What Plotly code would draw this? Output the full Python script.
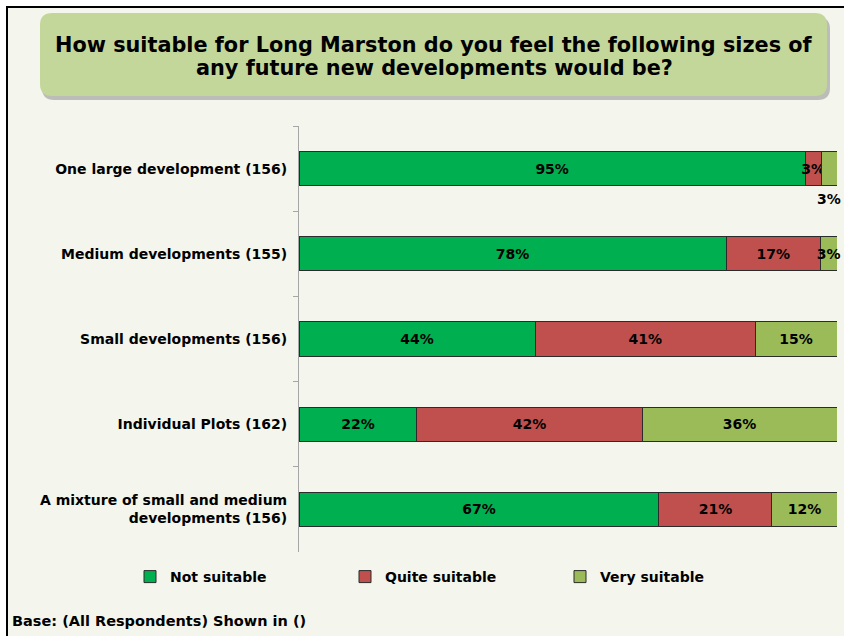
import plotly.graph_objects as go

# ---------------- data ----------------
categories = [
    "One large development (156)",
    "Medium developments (155)",
    "Small developments (156)",
    "Individual Plots (162)",
    "A mixture of small and medium<br>developments (156)",
]
series_names = ["Not suitable", "Quite suitable", "Very suitable"]
not_suitable = [94.1, 79.4, 43.9, 21.9, 66.9]
quite_suitable = [2.95, 17.5, 40.9, 41.9, 21.0]
very_suitable = [2.95, 3.1, 15.2, 36.2, 12.1]
not_suitable_lbl = ["95%", "78%", "44%", "22%", "67%"]
quite_suitable_lbl = ["3%", "17%", "41%", "42%", "21%"]
very_suitable_lbl = ["3%", "3%", "15%", "36%", "12%"]
title_lines = ["How suitable for Long Marston do you feel the following sizes of",
               "any future new developments would be?"]
footnote = "Base: (All Respondents) Shown in ()"

# ---------------- style ----------------
W, H = 844, 636
ML, MR, MT, MB = 299, 7, 126, 84
PW, PH = W - ML - MR, H - MT - MB
FONT = "DejaVu Sans"
BG = "#F4F6EE"
colors = ["#00B050", "#C0504D", "#9BBB59"]


def px2x(px):
    return (px - ML) / PW


def py2y(py):
    return (H - MB - py) / PH


def rrect(x0, y0, x1, y1, r):
    pts = [
        f"M {px2x(x0 + r)} {py2y(y0)}",
        f"L {px2x(x1 - r)} {py2y(y0)}",
        f"Q {px2x(x1)} {py2y(y0)} {px2x(x1)} {py2y(y0 + r)}",
        f"L {px2x(x1)} {py2y(y1 - r)}",
        f"Q {px2x(x1)} {py2y(y1)} {px2x(x1 - r)} {py2y(y1)}",
        f"L {px2x(x0 + r)} {py2y(y1)}",
        f"Q {px2x(x0)} {py2y(y1)} {px2x(x0)} {py2y(y1 - r)}",
        f"L {px2x(x0)} {py2y(y0 + r)}",
        f"Q {px2x(x0)} {py2y(y0)} {px2x(x0 + r)} {py2y(y0)}",
        "Z",
    ]
    return " ".join(pts)


fig = go.Figure()
values = [not_suitable, quite_suitable, very_suitable]
labels = [not_suitable_lbl, quite_suitable_lbl, very_suitable_lbl]
for i, name in enumerate(series_names):
    txt = list(labels[i])
    if i == 2:
        txt[0] = ""  # shown below the bar instead
    fig.add_trace(go.Bar(
        y=categories, x=values[i], name=name, orientation="h",
        marker=dict(color=colors[i], line=dict(color="#2B2B2B", width=1)),
        text=txt, textposition="inside", insidetextanchor="middle", textangle=0,
        textfont=dict(family=FONT, size=14, color="black", weight="bold"),
        width=0.4, cliponaxis=False, hoverinfo="skip",
    ))

fig.add_annotation(
    x=not_suitable[0] + quite_suitable[0] + very_suitable[0] / 2, y=categories[0],
    xref="x", yref="y", text=very_suitable_lbl[0], showarrow=False, yshift=-30,
    xanchor="center", yanchor="middle",
    font=dict(family=FONT, size=14, color="black", weight="bold"),
)

shapes = [
    dict(type="rect", xref="paper", yref="paper",
         x0=px2x(7), y0=py2y(7), x1=px2x(W + 40), y1=py2y(H + 40),
         fillcolor=BG, line=dict(color="black", width=2), layer="below"),
    dict(type="path", xref="paper", yref="paper",
         path=rrect(42, 17, 830, 100, 12), fillcolor="rgba(120,120,120,0.45)",
         line=dict(width=0), layer="below"),
    dict(type="path", xref="paper", yref="paper",
         path=rrect(40, 13, 827, 96, 12), fillcolor="#C4D79B",
         line=dict(width=0), layer="below"),
]

for line, yc in zip(title_lines, [45, 68]):
    fig.add_annotation(
        xref="paper", yref="paper", x=px2x(434), y=py2y(yc),
        xanchor="center", yanchor="middle",
        text=line, showarrow=False, align="center",
        font=dict(family=FONT, size=20.8, color="black", weight="bold"),
    )
fig.add_annotation(
    xref="paper", yref="paper", x=px2x(10), y=py2y(621), xanchor="left", yanchor="middle",
    text=footnote, showarrow=False,
    font=dict(family=FONT, size=14.5, color="black", weight="bold"),
)

fig.update_layout(
    width=W, height=H,
    margin=dict(l=ML, r=MR, t=MT, b=MB, pad=0),
    paper_bgcolor="white", plot_bgcolor="rgba(0,0,0,0)",
    barmode="stack", bargap=0.6,
    shapes=shapes,
    uniformtext=dict(mode="show", minsize=14),
    font=dict(family=FONT, size=14, color="black"),
    hovermode=False,
    legend=dict(
        orientation="h", x=px2x(130), y=py2y(577), xanchor="left", yanchor="middle",
        font=dict(family=FONT, size=14, color="black", weight="bold"),
        entrywidth=170, entrywidthmode="pixels", itemwidth=30,
        bgcolor="rgba(0,0,0,0)", traceorder="normal",
    ),
    xaxis=dict(range=[0, 100], showgrid=False, zeroline=False, showticklabels=False,
               ticks="", showline=False),
    yaxis=dict(autorange="reversed", showgrid=False, zeroline=False,
               showline=True, linecolor="#A6A6A6", linewidth=1,
               ticks="outside", ticklen=5, tickcolor="#A6A6A6", tickson="boundaries",
               ticklabelstandoff=8,
               tickfont=dict(family=FONT, size=14, color="black", weight="bold")),
)

fig.write_html(
    "out.html",
    config={"displayModeBar": False},
    post_script="document.body.style.margin='0';document.body.style.overflow='hidden';",
)
